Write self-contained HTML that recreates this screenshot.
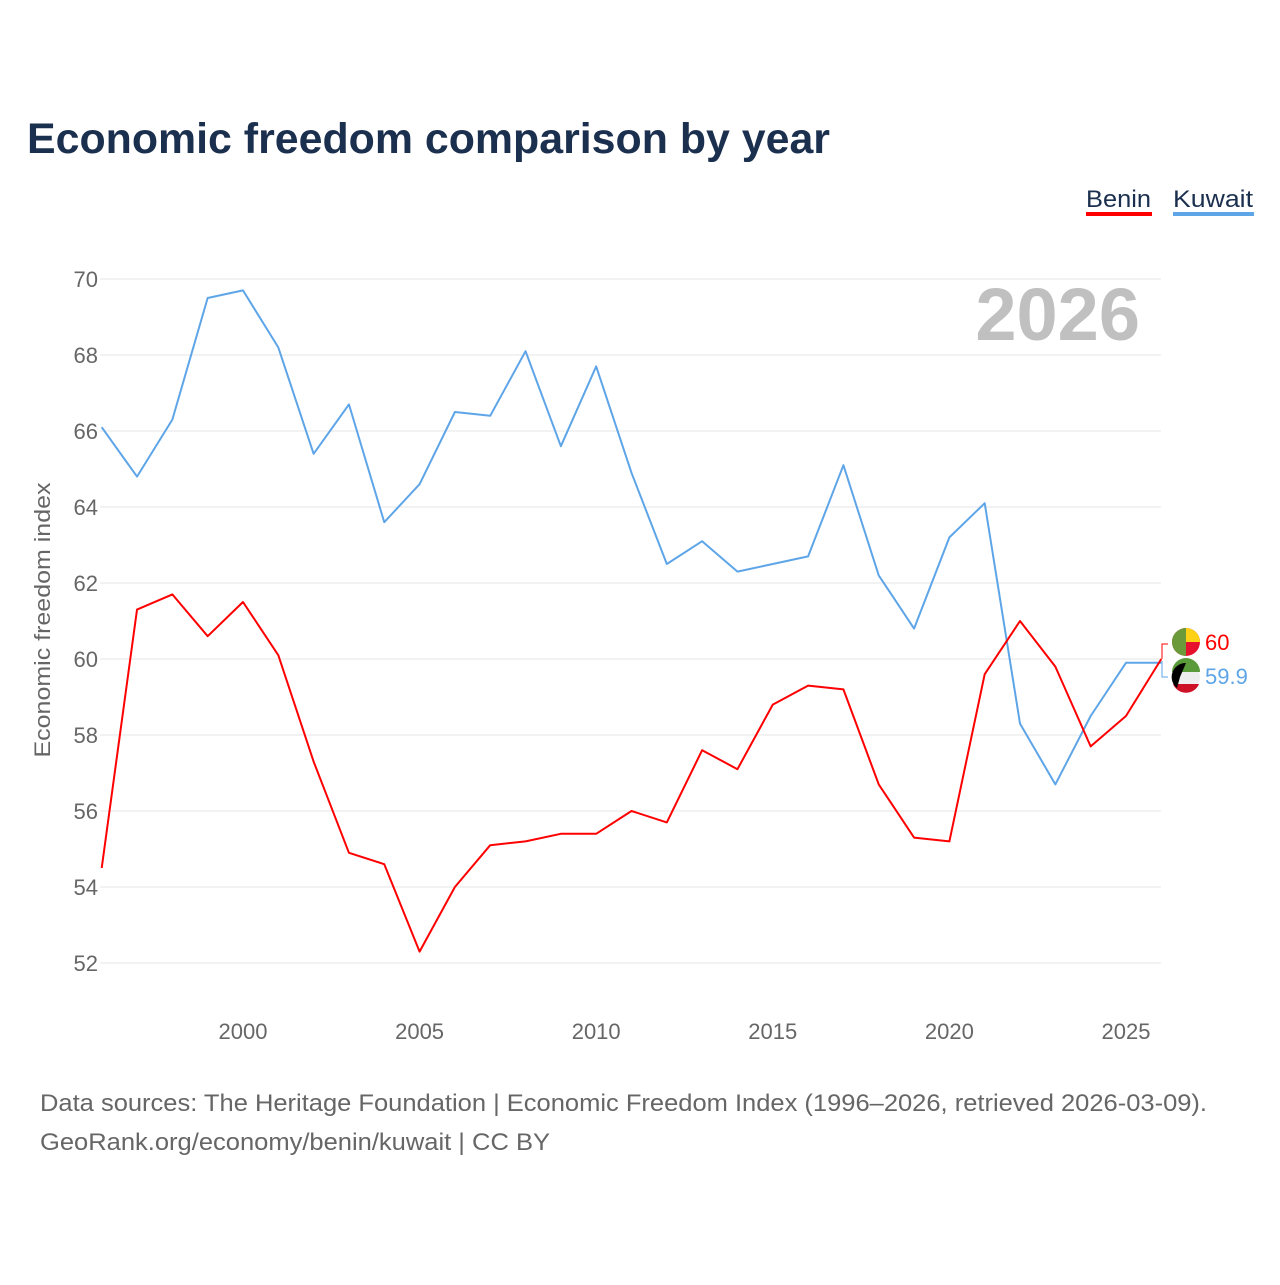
<!DOCTYPE html>
<html><head><meta charset="utf-8"><style>
body{margin:0;background:#fff;font-family:"Liberation Sans",sans-serif}
</style></head><body>
<svg width="1280" height="1280" xmlns="http://www.w3.org/2000/svg" style="font-family:'Liberation Sans',sans-serif">
<text x="27" y="153" font-size="43" font-weight="bold" fill="#1b2f4e" textLength="803" lengthAdjust="spacingAndGlyphs">Economic freedom comparison by year</text>
<g>
<text x="1086" y="207" font-size="24" fill="#1b2f4e" textLength="65" lengthAdjust="spacingAndGlyphs">Benin</text>
<rect x="1086" y="212" width="66" height="4" fill="#ff0000"/>
<text x="1173" y="207" font-size="24" fill="#1b2f4e" textLength="80" lengthAdjust="spacingAndGlyphs">Kuwait</text>
<rect x="1173" y="212" width="81" height="4" fill="#5ea5e8"/>
</g>
<text x="1140" y="340" font-size="74" font-weight="bold" fill="#c0c0c0" text-anchor="end">2026</text>
<g id="grid"></g><g id="yt"></g><g id="xt"></g>
<text transform="translate(50,620) rotate(-90)" font-size="22" fill="#666" text-anchor="middle" textLength="275" lengthAdjust="spacingAndGlyphs">Economic freedom index</text>
<g id="lines"></g>
<g>
<circle cx="1186" cy="642" r="14" fill="#e8112d"/>
<path d="M1186 628 A14 14 0 0 1 1200 642 L1186 642Z" fill="#fcd116"/>
<path d="M1186 628 A14 14 0 0 0 1186 656Z" fill="#6a9a3a"/>
<text x="1205" y="650" font-size="22" fill="#ff0000">60</text>
<circle cx="1186" cy="677" r="14" fill="#eee"/>
<path d="M1172 677 A14 14 0 0 1 1200 677Z" fill="#5a9a3a" transform="translate(0,-5)"/>
<path d="M1173 684 L1199 684 A14 14 0 0 1 1173 684Z" fill="#ce1126"/>
<path d="M1186 663 A14 14 0 0 0 1177 688 L1180 677Z" fill="#000"/>
<text x="1205" y="684" font-size="22" fill="#5ea5e8">59.9</text>
<path d="M1162 659 L1162 644 L1168 644" stroke="#ff0000" fill="none"/>
<path d="M1162 661 L1162 677 L1168 677" stroke="#5ea5e8" fill="none"/>
</g>
<text x="40" y="1111" font-size="24" fill="#666" textLength="1167" lengthAdjust="spacingAndGlyphs">Data sources: The Heritage Foundation | Economic Freedom Index (1996–2026, retrieved 2026-03-09).</text>
<text x="40" y="1150" font-size="24" fill="#666" textLength="510" lengthAdjust="spacingAndGlyphs">GeoRank.org/economy/benin/kuwait | CC BY</text>
</svg>
<script>
const years=[1996,1997,1998,1999,2000,2001,2002,2003,2004,2005,2006,2007,2008,2009,2010,2011,2012,2013,2014,2015,2016,2017,2018,2019,2020,2021,2022,2023,2024,2025,2026];
const kuwait=[66.1,64.8,66.3,69.5,69.7,68.2,65.4,66.7,63.6,64.6,66.5,66.4,68.1,65.6,67.7,64.9,62.5,63.1,62.3,62.5,62.7,65.1,62.2,60.8,63.2,64.1,58.3,56.7,58.5,59.9,59.9];
const benin=[54.5,61.3,61.7,60.6,61.5,60.1,57.3,54.9,54.6,52.3,54.0,55.1,55.2,55.4,55.4,56.0,55.7,57.6,57.1,58.8,59.3,59.2,56.7,55.3,55.2,59.6,61.0,59.8,57.7,58.5,60.0];
const yTicks=[52,54,56,58,60,62,64,66,68,70];
const xTicks=[2000,2005,2010,2015,2020,2025];
const NS="http://www.w3.org/2000/svg";
const x=v=>101.7+(v-1996)*35.32;
const y=v=>279+(70-v)*38;
function mk(t,a,p){const e=document.createElementNS(NS,t);for(const k in a)e.setAttribute(k,a[k]);p.appendChild(e);return e;}
const g=document.getElementById('grid'),yt=document.getElementById('yt'),xt=document.getElementById('xt'),L=document.getElementById('lines');
yTicks.forEach(v=>{
const l=mk('line',{x1:100,x2:1161,y1:y(v),y2:y(v),stroke:'#e6e6e6'},g);


const t=mk('text',{x:98,y:y(v)+8,'font-size':22,fill:'#666','text-anchor':'end'},yt);t.textContent=v;


});
xTicks.forEach(v=>{
const t=mk('text',{x:x(v),y:1039,'font-size':22,fill:'#666','text-anchor':'middle'},xt);t.textContent=v;


});
function line(d,c,n){
const p=mk('polyline',{points:d.map((v,i)=>x(years[i])+','+y(v)).join(' '),fill:'none',stroke:c,'stroke-width':2,'stroke-linejoin':'round'},L);


}
line(kuwait,'#5ea5e8','kuwait-line');
line(benin,'#ff0000','benin-line');
</script>
</body></html>
